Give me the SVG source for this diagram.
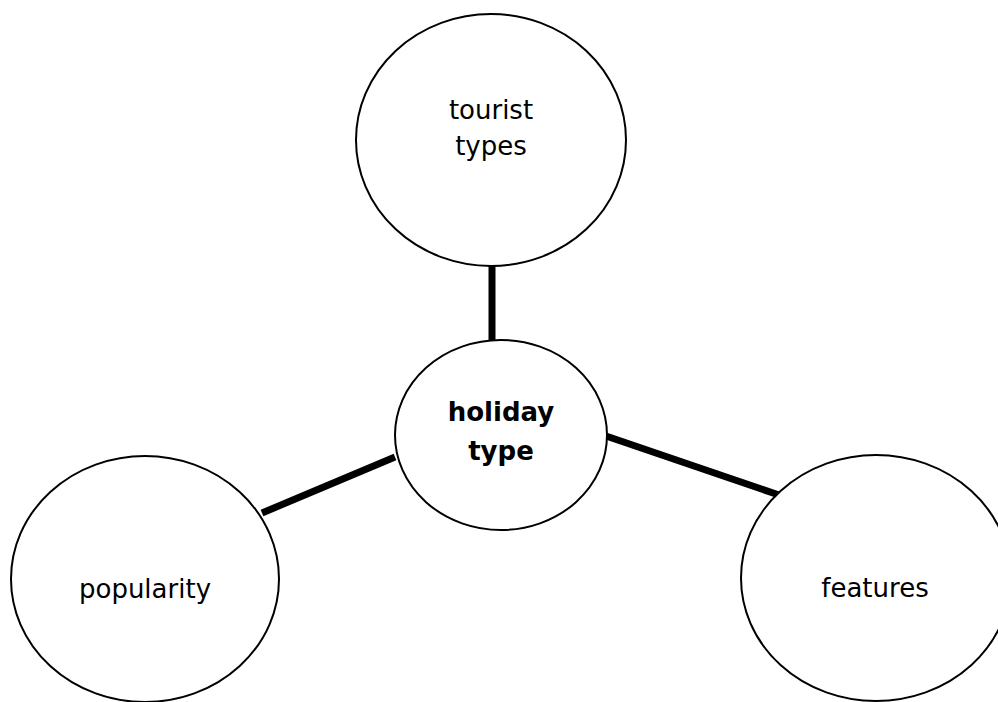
<svg xmlns="http://www.w3.org/2000/svg" width="998" height="702" viewBox="0 0 998 702">
  <style>
    .node { fill: #ffffff; stroke: #000000; stroke-width: 2; }
    .link { stroke: #000000; stroke-width: 7; fill: none; }
    .label { font-family: "DejaVu Sans", "Liberation Sans", sans-serif; font-size: 26px; fill: #000000; text-anchor: middle; }
    .bold { font-weight: bold; }
  </style>
  <rect width="998" height="702" fill="#ffffff"/>
  <g id="connectors">
    <line class="link" x1="492" y1="265" x2="492" y2="342"/>
    <line class="link" x1="395" y1="457" x2="262" y2="513"/>
    <line class="link" x1="606" y1="436" x2="779" y2="495"/>
  </g>
  <g id="tourist-types">
    <ellipse class="node" cx="491" cy="140" rx="135" ry="126"/>
    <text class="label" x="491" y="119">tourist</text>
    <text class="label" x="491" y="155">types</text>
  </g>
  <g id="holiday-type">
    <ellipse class="node" cx="501" cy="435" rx="106" ry="95"/>
    <text class="label bold" x="501" y="421">holiday</text>
    <text class="label bold" x="501" y="460">type</text>
  </g>
  <g id="popularity">
    <ellipse class="node" cx="145" cy="579" rx="134" ry="123"/>
    <text class="label" x="145" y="598">popularity</text>
  </g>
  <g id="features">
    <ellipse class="node" cx="876" cy="578" rx="135" ry="123"/>
    <text class="label" x="875" y="597">features</text>
  </g>
</svg>
